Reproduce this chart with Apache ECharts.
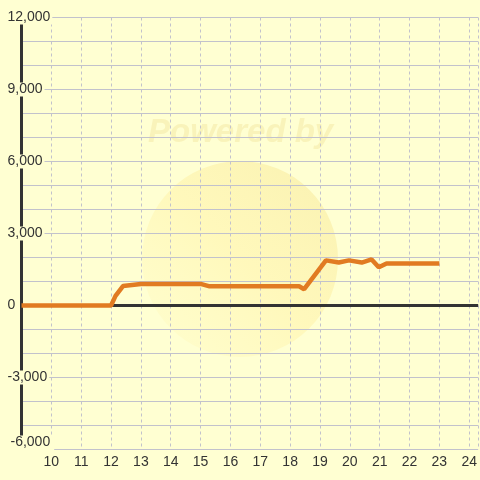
<!DOCTYPE html>
<html>
<head>
<meta charset="utf-8">
<script src="https://cdn.jsdelivr.net/npm/echarts@6/dist/echarts.min.js"></script>
<style>
  html, body { margin: 0; padding: 0; background: #FFFFD2; }
  #myChart { width: 480px; height: 480px; }
</style>
</head>
<body>
<div id="myChart"></div>
<script>
  // x = hour, y = value
  const hours = [9, 12, 12.15, 12.4, 13, 15, 15.3, 18.3, 18.47, 19.2, 19.63, 19.97, 20.4, 20.73, 20.97, 21.23, 23]
  const values = [0, 0, 400, 810, 900, 900, 800, 800, 680, 1880, 1790, 1880, 1790, 1920, 1590, 1750, 1750]
  const xTicks = [10, 11, 12, 13, 14, 15, 16, 17, 18, 19, 20, 21, 22, 23, 24]
  const yTicks = [-6000, -3000, 0, 3000, 6000, 9000, 12000]

  const bg = '#FFFFD2'
  const gridColor = '#C2C2CC'
  const axisColor = '#333333'
  const fontFamily = '"Liberation Sans", Arial, sans-serif'

  const myChart = echarts.init(document.getElementById('myChart'))

  myChart.setOption({
    backgroundColor: bg,
    animation: false,
    textStyle: { fontFamily: fontFamily },
    graphic: [
      // faint watermark
      {
        type: 'circle',
        silent: true,
        z: -10,
        shape: { cx: 240, cy: 259, r: 98 },
        style: {
          fill: new echarts.graphic.LinearGradient(0, 1, 1, 0, [
            { offset: 0, color: 'rgba(255,250,190,0.25)' },
            { offset: 0.5, color: 'rgba(255,240,160,0.45)' },
            { offset: 1, color: 'rgba(245,230,150,0.55)' }
          ])
        }
      },
      {
        type: 'text',
        silent: true,
        z: -10,
        left: 148,
        top: 116,
        style: {
          text: 'Powered by',
          font: 'italic bold 33px "Liberation Sans", Arial, sans-serif',
          fill: 'rgba(240,225,150,0.4)'
        }
      }
    ],
    // half-pixel offsets keep the 1px grid lines crisp
    grid: {
      left: 21.5,
      right: -0.5,
      top: 17.5,
      bottom: 30.5
    },
    xAxis: {
      type: 'value',
      min: 9,
      max: 24.3,
      interval: 1,
      axisLine: { show: false },
      axisTick: { show: false },
      axisLabel: {
        margin: 6,
        fontSize: 14,
        color: axisColor,
        showMinLabel: false,
        showMaxLabel: false,
        formatter: function(v) {
          return xTicks.indexOf(v) > -1 ? String(v) : ''
        }
      },
      splitLine: {
        show: true,
        lineStyle: { color: gridColor, type: [3, 3], width: 1 }
      }
    },
    yAxis: {
      type: 'value',
      min: -6000,
      max: 12000,
      interval: 3000,
      axisLine: {
        show: true,
        lineStyle: { color: axisColor, width: 3 }
      },
      axisTick: { show: false },
      minorTick: { show: false, splitNumber: 3 },
      minorSplitLine: {
        show: true,
        lineStyle: { color: gridColor, width: 1 }
      },
      splitLine: {
        show: true,
        lineStyle: { color: gridColor, width: 1 }
      },
      axisLabel: {
        margin: 15,
        align: 'left',
        formatter: function(v) {
          if (yTicks.indexOf(v) < 0) return ''
          const txt = v.toLocaleString('en-US')
          // bottom label is pushed up like in the original
          return v === -6000 ? '{b|' + txt + '}' : '{a|' + txt + '}'
        },
        rich: {
          a: {
            fontSize: 14,
            color: axisColor,
            backgroundColor: bg,
            padding: [0, 2, 0, 1]
          },
          b: {
            fontSize: 14,
            color: axisColor,
            backgroundColor: bg,
            padding: [0, 4, 14, 4]
          }
        }
      }
    },
    series: [
      {
        // zero line
        type: 'line',
        data: [],
        z: 1,
        markLine: {
          silent: true,
          symbol: ['none', 'none'],
          label: { show: false },
          lineStyle: { color: axisColor, width: 3, type: 'solid' },
          data: [{ yAxis: 0 }]
        }
      },
      {
        type: 'line',
        z: 5,
        data: hours.map((h, i) => [h, values[i]]),
        showSymbol: false,
        lineStyle: { color: '#E17B22', width: 4.5 },
        itemStyle: { color: '#E17B22' }
      }
    ]
  })
</script>
</body>
</html>
